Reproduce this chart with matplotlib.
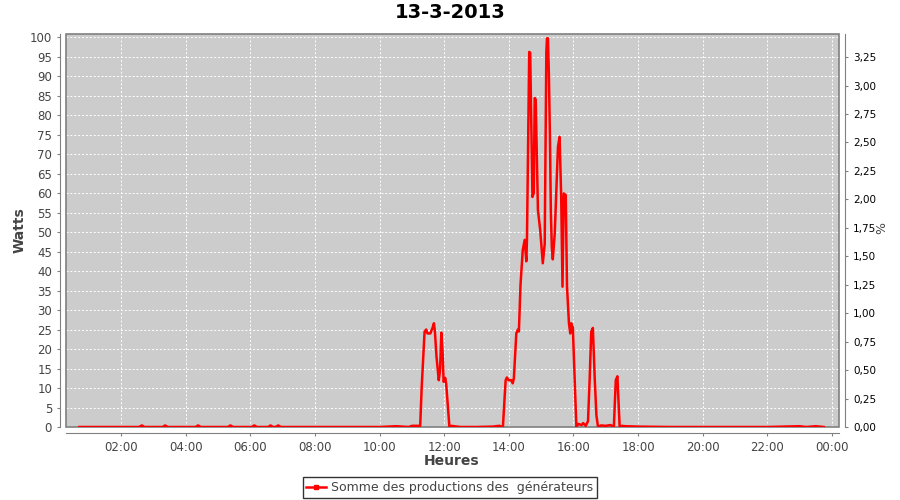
import numpy as np
import matplotlib
matplotlib.use("Agg")
import matplotlib.pyplot as plt
from matplotlib.patches import Rectangle
from matplotlib.lines import Line2D

# heures (decimal) et puissance en watts
heures = [
    0.70, 1.00, 1.50, 2.00, 2.55, 2.64, 2.72, 3.00, 3.28, 3.36, 3.44, 4.00,
    4.30, 4.38, 4.46, 5.00, 5.30, 5.38, 5.46, 6.04, 6.12, 6.20, 6.55, 6.62,
    6.70, 6.78, 6.86, 6.94, 7.50, 8.00, 9.00, 10.00, 10.50, 10.90, 11.00,
    11.10, 11.20,
    11.255, 11.30, 11.39, 11.44, 11.48, 11.57, 11.64, 11.68, 11.71, 11.76,
    11.83, 11.87, 11.91, 11.95, 11.98, 12.03, 12.06, 12.16,
    12.22, 12.30, 12.50, 13.00, 13.50, 13.70, 13.815,
    13.90, 13.94, 13.99, 14.075, 14.12, 14.155, 14.23, 14.28, 14.31, 14.36,
    14.43, 14.49, 14.54, 14.56, 14.63, 14.66, 14.73, 14.77, 14.80, 14.83,
    14.90, 14.97, 15.05, 15.11, 15.16, 15.18, 15.21, 15.24, 15.27, 15.30,
    15.33, 15.36, 15.42, 15.47, 15.52, 15.57, 15.62, 15.66, 15.70, 15.76,
    15.80, 15.86, 15.90, 15.93, 15.98, 16.04, 16.09,
    16.15, 16.25, 16.30, 16.38, 16.45, 16.50, 16.55, 16.60, 16.66, 16.71,
    16.76, 16.85, 17.00, 17.15, 17.25, 17.31, 17.36, 17.43,
    17.50, 17.60, 18.00, 19.00, 20.00, 21.00, 22.00, 23.00, 23.20, 23.50,
    23.75,
]
watts = [
    0, 0, 0, 0, 0, 0.4, 0, 0, 0, 0.4, 0, 0,
    0, 0.4, 0, 0, 0, 0.4, 0, 0, 0.4, 0, 0, 0.4,
    0, 0, 0.4, 0, 0, 0, 0, 0, 0.2, 0, 0.3,
    0.3, 0.3,
    0.3, 10.0, 24.4, 25.0, 24.0, 24.0, 25.5, 26.6, 24.5, 18.0,
    12.0, 14.6, 24.2, 19.0, 11.6, 12.6, 11.0, 0,
    0.3, 0.2, 0, 0, 0.1, 0.3, 0,
    12.0, 12.7, 12.0, 12.0, 11.2, 12.5, 24.0, 25.0, 24.5, 36.4,
    45.4, 48.0, 42.5, 48.0, 96.2, 96.0, 59.0, 60.0, 84.4, 84.0,
    55.6, 50.5, 42.0, 47.0, 96.2, 99.7, 99.7, 90.0, 75.0, 55.0,
    46.0, 43.0, 49.6, 60.8, 71.9, 74.4, 59.0, 36.0, 59.9, 59.5,
    36.0, 26.6, 24.0, 26.6, 25.5, 11.3, 0,
    0.8, 0.5, 1.0, 0.3, 1.5, 12.0, 24.4, 25.4, 12.0, 3.0,
    0, 0.4, 0.3, 0.5, 0, 12.0, 13.0, 0,
    0.3, 0.2, 0.1, 0, 0, 0, 0, 0.2, 0, 0.2,
    0,
]

xticks = [2, 4, 6, 8, 10, 12, 14, 16, 18, 20, 22, 24]
xticklabels = ["02:00", "04:00", "06:00", "08:00", "10:00", "12:00",
               "14:00", "16:00", "18:00", "20:00", "22:00", "00:00"]
yticks = list(range(0, 101, 5))
pct_ticks = [0.0, 0.25, 0.5, 0.75, 1.0, 1.25, 1.5, 1.75, 2.0, 2.25, 2.5,
             2.75, 3.0, 3.25]
pct_labels = ["0,00", "0,25", "0,50", "0,75", "1,00", "1,25", "1,50", "1,75",
              "2,00", "2,25", "2,50", "2,75", "3,00", "3,25"]

gris = "#808080"
texte = "#444444"

fig = plt.figure(figsize=(9, 5), dpi=100)
ax = fig.add_axes([66/900, 1 - 427/500, (839 - 66)/900, (427 - 34)/500])
ax.set_facecolor("#cccccc")

ax.plot(heures, watts, color="#ff0000", lw=1.8, zorder=5)

ax.set_xlim(0.29, 24.22)
ax.set_ylim(0, 100.8)
ax.set_xticks(xticks)
ax.set_xticklabels(xticklabels)
ax.set_yticks(yticks)
ax.grid(True, color="white", lw=0.7, ls=(0, (2, 2)))
ax.set_axisbelow(True)

for s in ["top", "right"]:
    ax.spines[s].set_visible(False)
for s in ["left", "bottom"]:
    ax.spines[s].set_position(("outward", 4))
    ax.spines[s].set_color(gris)
ax.tick_params(colors=gris, labelcolor=texte, labelsize=8.5, length=2.5,
               width=0.8)
ax.add_patch(Rectangle((0, 0), 1, 1, transform=ax.transAxes, fill=False,
                       edgecolor=gris, lw=1.2, clip_on=False, zorder=4))

ax2 = ax.twinx()
ax2.set_ylim(0, 3.453)
ax2.set_yticks(pct_ticks)
ax2.set_yticklabels(pct_labels)
for s in ["top", "left", "bottom"]:
    ax2.spines[s].set_visible(False)
ax2.spines["right"].set_position(("outward", 4))
ax2.spines["right"].set_color(gris)
ax2.tick_params(colors=gris, labelcolor="black", labelsize=7.5, length=2.5,
                width=0.8)

fig.text(0.5, 1 - 13/500, "13-3-2013", ha="center", va="center",
         fontsize=14, fontweight="bold")
fig.text(20/900, 1 - 230/500, "Watts", ha="center", va="center",
         rotation=90, fontsize=10, fontweight="bold", color=texte)
fig.text(452/900, 1 - 461/500, "Heures", ha="center", va="center",
         fontsize=10, fontweight="bold", color=texte)
fig.text(882/900, 1 - 228/500, "%", ha="center", va="center",
         rotation=90, fontsize=9, color=texte)

poignee = Line2D([], [], color="#ff0000", lw=1.8, marker="s", markersize=3)
leg = fig.legend([poignee], ["Somme des productions des  générateurs"],
                 loc="center", bbox_to_anchor=(0.5, 1 - 487.5/500),
                 fontsize=9, frameon=True, fancybox=False,
                 handlelength=1.6, borderpad=0.3, handletextpad=0.4)
leg.get_frame().set_edgecolor("black")
leg.get_frame().set_linewidth(1.0)
for t in leg.get_texts():
    t.set_color(texte)

fig.savefig("out.png", dpi=100)
